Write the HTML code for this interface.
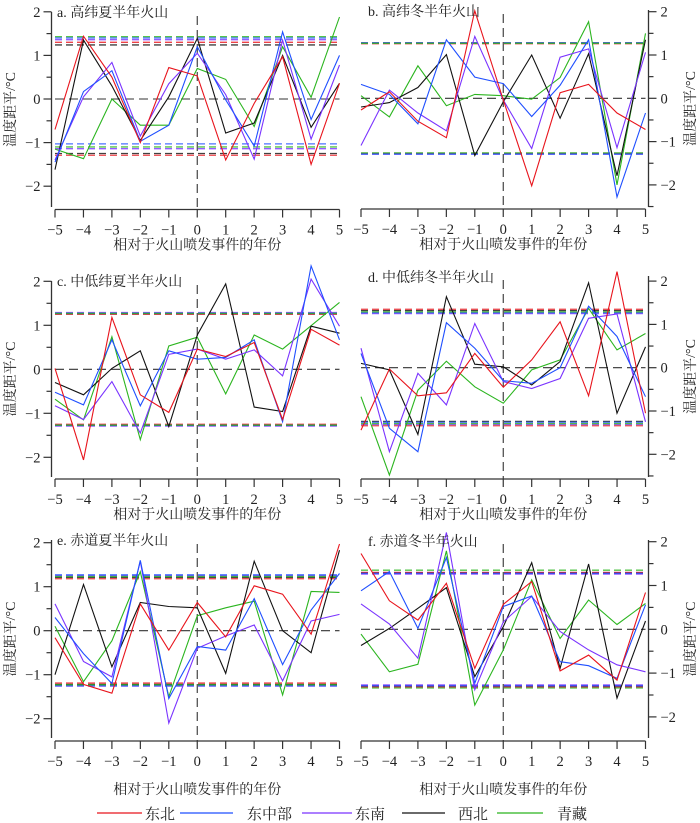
<!DOCTYPE html>
<html><head><meta charset="utf-8"><style>
body{margin:0;background:#fff}
svg{display:block}
text{font-family:"Liberation Serif","Noto Serif CJK SC","Noto Sans CJK SC",serif;fill:#222}
</style></head><body>
<svg id="s" width="700" height="823" xmlns="http://www.w3.org/2000/svg"></svg>
<script>
const C={r:"#e8141c",b:"#1f4fff",p:"#7a33ff",k:"#111",g:"#2bb51f"};
const P=[
{id:"a. 高纬夏半年火山",left:true,z:99,s:43.6,top:12,bot:207,ax:209.5,
 d:{r:[-0.7,1.44,0.5,-1.0,0.72,0.53,-1.4,-0.1,0.97,-1.5,0.36],
    k:[-1.62,1.35,0.3,-0.95,0.05,1.39,-0.78,-0.55,1.0,-0.65,0.36],
    b:[-1.45,0.17,0.65,-0.97,-0.6,1.2,-0.02,-1.08,1.54,-0.47,1.0],
    p:[-1.4,0.05,0.84,-0.85,0.35,1.05,0.1,-1.38,1.35,-0.92,0.78],
    g:[-1.15,-1.37,0,-0.6,-0.6,0.7,0.45,-0.63,1.2,0.04,1.88]},
 up:{g:1.43,b:1.40,p:1.36,r:1.30,k:1.24},lo:{b:-1.03,g:-1.10,p:-1.14,k:-1.25,r:-1.29}},
{id:"b. 高纬冬半年火山",left:false,z:98.3,s:43.3,top:10,bot:207,ax:209,
 d:{r:[-0.27,0.15,-0.53,-0.91,2.02,-0.04,-2.02,0.13,0.32,-0.34,-0.72],
    b:[0.32,0.09,-0.59,1.35,0.49,0.34,-0.42,0.3,1.35,-2.28,-0.34],
    p:[-1.09,0.19,-0.34,-0.75,1.43,-0.04,-1.16,0.95,1.14,-1.14,1.06],
    k:[-0.2,-0.1,0.25,1.01,-1.32,-0.08,1.0,-0.46,1.03,-1.79,1.35],
    g:[0.06,-0.43,0.75,-0.17,0.09,0.06,-0.02,0.48,1.77,-2.0,1.5]},
 up:{g:1.27,r:1.26,k:1.28,b:1.28,p:1.28},lo:{g:-1.26,r:-1.27,k:-1.28,b:-1.29,p:-1.29}},
{id:"c. 中低纬夏半年火山",left:true,z:369.3,s:44,top:281,bot:477,ax:479,
 d:{r:[0.02,-2.06,1.18,-0.58,-0.98,0.46,0.29,0.61,-1.14,0.91,0.55],
    k:[-0.3,-0.58,0.02,0.42,-1.3,0.78,1.94,-0.86,-0.96,0.98,0.82],
    b:[-0.52,-0.81,0.67,-0.83,0.42,0.23,0.27,0.67,-1.19,2.35,0.67],
    p:[-0.83,-1.14,-0.28,-1.45,0.34,0.46,0.23,0.44,-0.15,2.05,0.98],
    g:[-0.68,-1.15,0.74,-1.6,0.53,0.73,-0.56,0.78,0.46,0.99,1.52]},
 up:{p:1.29,g:1.27,r:1.25,k:1.27,b:1.27},lo:{r:-1.25,g:-1.27,k:-1.27,p:-1.29,b:-1.27}},
{id:"d. 中低纬冬半年火山",left:false,z:367.7,s:43.3,top:276,bot:477,ax:479,
 d:{r:[-1.44,-0.03,-0.65,-0.58,0.33,-0.45,0.18,1.06,-0.65,2.22,-1.05],
    k:[0.1,-0.05,-1.54,1.64,0.08,0.02,-0.4,0.14,1.96,-1.05,0.48],
    b:[0.33,-1.4,-1.94,1.04,0.45,-0.3,-0.36,0,1.42,0.72,-0.67],
    p:[0.45,-1.94,-0.13,-0.86,1.02,-0.32,-0.48,-0.25,1.14,1.24,-1.25],
    g:[-0.67,-2.48,-0.52,0.15,-0.44,-0.82,-0.05,0.18,1.37,0.41,0.79]},
 up:{r:1.35,k:1.32,g:1.29,b:1.27,p:1.25},lo:{k:-1.24,b:-1.26,g:-1.29,p:-1.31,r:-1.34}},
{id:"e. 赤道夏半年火山",left:true,z:630.7,s:44,top:540,bot:738,ax:741,
 d:{r:[-0.16,-1.22,-1.42,0.61,-0.44,0.64,-0.14,1.02,0.83,-0.08,1.97],
    k:[-1.0,1.05,-0.82,0.64,0.55,0.52,-0.97,1.58,0,-0.5,1.83],
    b:[0.3,-0.52,-1.2,1.6,-1.54,-0.36,-0.44,0.73,-0.77,0.47,1.3],
    p:[0.61,-0.7,-1.05,1.58,-2.1,-0.4,-0.12,0.13,-1.14,0.22,0.37],
    g:[0.1,-1.16,-0.23,1.34,-1.5,0.34,0.52,0.67,-1.46,0.89,0.87]},
 up:{b:1.27,p:1.25,g:1.23,k:1.21,r:1.18},lo:{r:-1.19,k:-1.22,g:-1.23,b:-1.25,p:-1.26}},
{id:"f. 赤道冬半年火山",left:false,z:629.3,s:43.8,top:540,bot:738,ax:741,
 d:{r:[1.73,0.65,0.21,1.05,-0.89,0.57,1.09,-0.95,-0.59,-1.16,0.84],
    k:[-0.37,0.02,0.48,0.95,-1.08,0.06,1.52,-0.89,1.49,-1.57,0.19],
    b:[0.88,1.32,0.02,1.64,-1.23,0.52,0.76,-0.74,-0.83,-1.12,0.56],
    p:[0.58,0.12,-0.66,2.21,-1.38,0.17,0.75,-0.05,-0.47,-0.81,-0.97],
    g:[-0.11,-0.97,-0.8,1.79,-1.73,-0.47,1.13,-0.21,0.67,0.11,0.59]},
 up:{g:1.35,r:1.30,k:1.29,b:1.28,p:1.26},lo:{p:-1.27,b:-1.29,k:-1.30,r:-1.32,g:-1.34}}
];
let h="";
const L=(x1,y1,x2,y2,c,w,da,op)=>`<line x1="${x1}" y1="${y1}" x2="${x2}" y2="${y2}" stroke="${c}" stroke-width="${w}"${da?` stroke-dasharray="${da}"`:""}${op?` stroke-opacity="${op}"`:""}/>`;
const T=(x,y,t,sz,anc,extra)=>`<text x="${x}" y="${y}" font-size="${sz}" text-anchor="${anc||"middle"}" ${extra||""}>${t}</text>`;
P.forEach(p=>{
 const x0=p.left?55:361, dx=28.45, x5=x0+10*dx;
 const X=i=>x0+i*dx, Y=v=>p.z-v*p.s;
 for(const k of ["k","r","p","b","g"]){
   h+=L(x0,Y(p.up[k]),x5,Y(p.up[k]),C[k],1.3,"7 4",0.8);
   h+=L(x0,Y(p.lo[k]),x5,Y(p.lo[k]),C[k],1.3,"7 4",0.8);
 }
 h+=L(x0,p.z,x5,p.z,"#333",1.1,"9 5");
 h+=L(X(5),p.top+4,X(5),p.ax,"#333",1.1,"9 5");
 for(const k of ["g","k","p","b","r"]){
   const pts=p.d[k].map((v,i)=>X(i).toFixed(1)+","+Y(v).toFixed(1)).join(" ");
   h+=`<polyline points="${pts}" fill="none" stroke="${C[k]}" stroke-width="1.1"/>`;
 }
 const ya=p.left?51.5:648.5, dir=p.left?-1:1;
 h+=L(ya,p.top,ya,p.bot,"#333",1.3);
 for(let v=-2.5;v<=2.01;v+=0.5){
   const y=Y(v); if(y<p.top-1||y>p.bot)continue;
   const major=Math.abs(v-Math.round(v))<0.01;
   h+=L(ya,y,ya+dir*(major?8:5),y,"#333",1.2);
   if(major){
     const lab=v<0?"−"+Math.abs(v):""+v;
     h+=T(p.left?ya-11:ya+12,y+5,lab,14.5,p.left?"end":"start");
   }
 }
 h+=L(x0,p.ax,x5,p.ax,"#333",1.3);
 for(let i=0;i<=10;i++){
   h+=L(X(i),p.ax,X(i),p.ax+8,"#333",1.2);
   const v=i-5; h+=T(X(i),p.ax+25,v<0?"−"+Math.abs(v):v,14.5);
 }
 h+=T((x0+x5)/2,p.ax+(p.ax>700?53:40),"相对于火山喷发事件的年份",14);
 h+=T(p.left?57:368,p.top+(p.left?5:6),p.id,14,"start");
 const yl=p.left?12:692, yc=(p.top+p.bot)/2;
 h+=T(yl,yc,"温度距平/°C",14,"middle",`transform="rotate(-90 ${yl} ${yc})" dominant-baseline="middle"`);
});
const LG=[["r",97,142,"东北",145],["b",180,233,"东中部",247],["p",302,352,"东南",355],["k",402,445,"西北",458],["g",497,543,"青藏",557]];
LG.forEach(l=>{h+=L(l[1],813,l[2],813,C[l[0]],1.3);h+=T(l[4],819,l[3],15,"start");});
document.getElementById("s").innerHTML=h;
</script>
</body></html>
